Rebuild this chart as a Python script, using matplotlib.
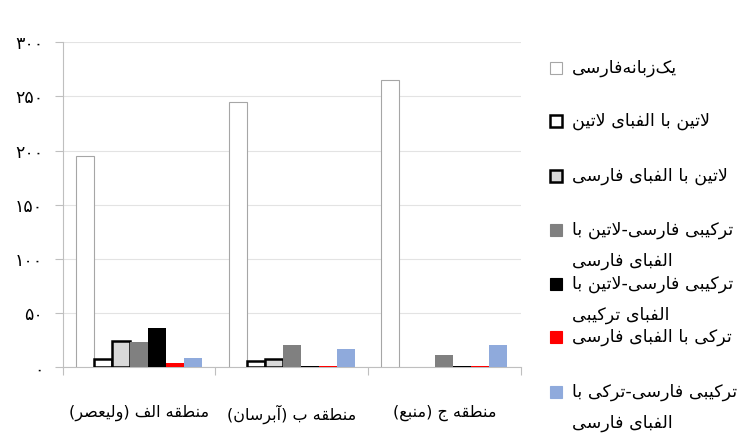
import numpy as np
import matplotlib.pyplot as plt
from matplotlib.patches import Rectangle

# ---- data ----
regions = ["منطقه الف (ولیعصر)", "منطقه ب (آبرسان)", "منطقه ج (منبع)"]
series_names = [
    "یک\u200cزبانه\u200cفارسی",
    "لاتین با الفبای لاتین",
    "لاتین با الفبای فارسی",
    "ترکیبی فارسی-لاتین با\nالفبای فارسی",
    "ترکیبی فارسی-لاتین با\nالفبای ترکیبی",
    "ترکی با الفبای فارسی",
    "ترکیبی فارسی-ترکی با\nالفبای فارسی",
]
mono_fa = [195, 245, 265]
latin_latin = [8, 6, np.nan]
latin_fa = [24, 8, np.nan]
mixed_latin_fa = [23, 21, 11]
mixed_latin_mixed = [36, 1, 1]
turkish_fa = [4, 1, 1]
mixed_turkish_fa = [9, 17, 21]
yticks = [0, 50, 100, 150, 200, 250, 300]

series = [mono_fa, latin_latin, latin_fa, mixed_latin_fa,
          mixed_latin_mixed, turkish_fa, mixed_turkish_fa]
# (face, edge, linewidth)
styles = [
    ("#ffffff", "#a6a6a6", 0.8),
    ("#ffffff", "#000000", 1.8),
    ("#d9d9d9", "#000000", 1.8),
    ("#808080", "#808080", 0.0),
    ("#000000", "#000000", 0.0),
    ("#ff0000", "#ff0000", 0.0),
    ("#8faadc", "#8faadc", 0.0),
]

# ---- minimal Persian shaping (matplotlib has no complex text layout) ----
AR = {
    "\u0627": (0xFE8D, 0xFE8E, None, None),
    "\u0622": (0xFE81, 0xFE82, None, None),
    "\u0628": (0xFE8F, 0xFE90, 0xFE91, 0xFE92),
    "\u062A": (0xFE95, 0xFE96, 0xFE97, 0xFE98),
    "\u062C": (0xFE9D, 0xFE9E, 0xFE9F, 0xFEA0),
    "\u0631": (0xFEAD, 0xFEAE, None, None),
    "\u0632": (0xFEAF, 0xFEB0, None, None),
    "\u0633": (0xFEB1, 0xFEB2, 0xFEB3, 0xFEB4),
    "\u0635": (0xFEB9, 0xFEBA, 0xFEBB, 0xFEBC),
    "\u0637": (0xFEC1, 0xFEC2, 0xFEC3, 0xFEC4),
    "\u0639": (0xFEC9, 0xFECA, 0xFECB, 0xFECC),
    "\u0641": (0xFED1, 0xFED2, 0xFED3, 0xFED4),
    "\u0642": (0xFED5, 0xFED6, 0xFED7, 0xFED8),
    "\u06A9": (0xFB8E, 0xFB8F, 0xFB90, 0xFB91),
    "\u0644": (0xFEDD, 0xFEDE, 0xFEDF, 0xFEE0),
    "\u0645": (0xFEE1, 0xFEE2, 0xFEE3, 0xFEE4),
    "\u0646": (0xFEE5, 0xFEE6, 0xFEE7, 0xFEE8),
    "\u0647": (0xFEE9, 0xFEEA, 0xFEEB, 0xFEEC),
    "\u0648": (0xFEED, 0xFEEE, None, None),
    "\u06CC": (0xFBFC, 0xFBFD, 0xFBFE, 0xFBFF),
}
LAM_ALEF = {"\u0627": (0xFEFB, 0xFEFC), "\u0622": (0xFEF5, 0xFEF6)}


def shape_line(s):
    chars = list(s)
    out = []
    i = 0
    while i < len(chars):
        c = chars[i]
        if c not in AR:
            if c != "\u200c":
                out.append(c)
            i += 1
            continue
        prev = chars[i - 1] if i > 0 else ""
        joins_prev = prev in AR and AR[prev][2] is not None
        nxt = chars[i + 1] if i + 1 < len(chars) else ""
        if c == "\u0644" and nxt in LAM_ALEF:
            iso, fin = LAM_ALEF[nxt]
            out.append(chr(fin if joins_prev else iso))
            i += 2
            continue
        iso, fin, ini, med = AR[c]
        joins_next = ini is not None and nxt in AR
        if joins_prev and joins_next:
            cp = med
        elif joins_prev:
            cp = fin
        elif joins_next:
            cp = ini
        else:
            cp = iso
        out.append(chr(cp))
        i += 1
    vis = "".join(reversed(out))
    return vis.translate(str.maketrans("()", ")("))


def fa_digits(v):
    return str(int(v)).translate(str.maketrans("0123456789", "۰۱۲۳۴۵۶۷۸۹"))


plt.rcParams["font.family"] = ["DejaVu Sans"]

fig = plt.figure(figsize=(7.52, 4.44), dpi=100)
ax = fig.add_axes([0.0834, 0.1727, 0.6090, 0.7320])

x = np.arange(len(regions))
n = len(series)
w = 1 / (n + 1.5)
for k, (vals, (fc, ec, lw)) in enumerate(zip(series, styles)):
    ax.bar(x + (k - (n - 1) / 2) * w, vals, w, color=fc, edgecolor=ec,
           linewidth=lw, zorder=3)

ax.set_xlim(-0.5, len(regions) - 0.5)
ax.set_ylim(0, 300)
ax.set_yticks(yticks)
ax.set_yticklabels([fa_digits(v) for v in yticks], fontsize=12.5)
ax.yaxis.grid(True, color="#e3e3e3", linewidth=0.8, zorder=0)

ax.set_xticks(np.arange(len(regions) + 1) - 0.5)
ax.set_xticklabels([])
ax.set_xticks(x, minor=True)
ax.set_xticklabels([shape_line(r) for r in regions], minor=True, fontsize=11.5)
ax.tick_params(axis="x", which="minor", length=0, pad=27)
ax.tick_params(axis="x", which="major", length=6, color="#bfbfbf", width=0.8)
ax.tick_params(axis="y", length=6, color="#bfbfbf", width=0.8, pad=8)

for s in ("top", "right"):
    ax.spines[s].set_visible(False)
for s in ("left", "bottom"):
    ax.spines[s].set_color("#bfbfbf")
    ax.spines[s].set_linewidth(0.8)

# legend, laid out like the Excel one (one slot per entry, wrapped text)
W, H = 752, 444
leg_y = [68, 121, 176, 230, 284, 337, 392]
for name, (fc, ec, lw), yc in zip(series_names, styles, leg_y):
    sq = 12
    fig.patches.append(Rectangle((550 / W, 1 - (yc + sq / 2) / H), sq / W, sq / H,
                                 facecolor=fc, edgecolor=ec if lw else fc,
                                 linewidth=max(lw, 0.8), transform=fig.transFigure,
                                 figure=fig))
    for j, line in enumerate(name.split("\n")):
        fig.text(572 / W, 1 - (yc + 31 * j) / H, shape_line(line),
                 fontsize=12.6, ha="left", va="center")

fig.savefig("out.png", dpi=100)
